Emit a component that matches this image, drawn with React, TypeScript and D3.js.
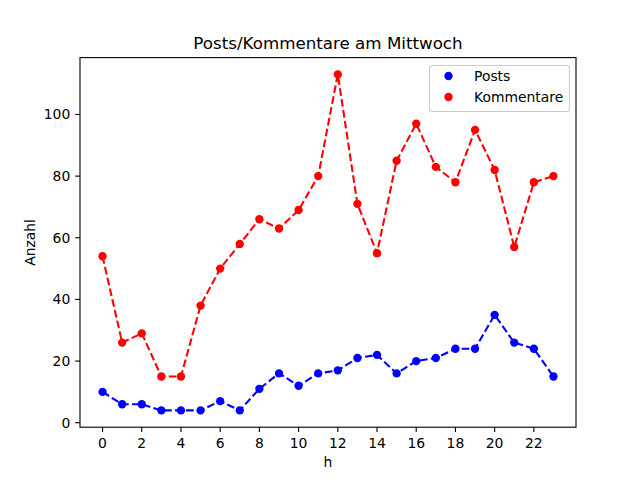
import { useEffect } from 'react'
import * as d3 from 'd3'

// hourly counts for Wednesday
const hours = d3.range(0, 24)
const posts = [10, 6, 6, 4, 4, 4, 7, 4, 11, 16, 12, 16, 17, 21, 22, 16, 20, 21, 24, 24, 35, 26, 24, 15]
const kommentare = [54, 26, 29, 15, 15, 38, 50, 58, 66, 63, 69, 80, 113, 71, 55, 85, 97, 83, 78, 95, 82, 57, 78, 80]
const xTicks = [0, 2, 4, 6, 8, 10, 12, 14, 16, 18, 20, 22]
const yTicks = [0, 20, 40, 60, 80, 100]

const series = [
  { name: 'Posts', values: posts, color: '#0000ff' },
  { name: 'Kommentare', values: kommentare, color: '#ff0000' },
]

const W = 640
const H = 480
const M = { left: 80, right: 64, top: 57.6, bottom: 52.8 }
const FONT = 'DejaVu Sans, sans-serif'

export default function App() {
  useEffect(() => {
    document.body.style.margin = '0'
  }, [])

  const all = [...posts, ...kommentare]
  const yMin = d3.min(all)!, yMax = d3.max(all)!
  const yPad = (yMax - yMin) * 0.05
  const xPad = 23 * 0.05

  const x = d3.scaleLinear().domain([-xPad, 23 + xPad]).range([M.left, W - M.right])
  const y = d3.scaleLinear().domain([yMin - yPad, yMax + yPad]).range([H - M.bottom, M.top])

  const line = (vals: number[]) =>
    d3.line<number>().x((_, i) => x(hours[i])).y(d => y(d))(vals) ?? ''

  const x0 = M.left, x1 = W - M.right, y0 = H - M.bottom, y1 = M.top

  return (
    <svg width={W} height={H} style={{ display: 'block', background: '#fff' }} fontFamily={FONT}>
      <rect x={0} y={0} width={W} height={H} fill="#fff" />

      {series.map(s => (
        <g key={s.name}>
          <path d={line(s.values)} fill="none" stroke={s.color} strokeWidth={2.08}
            strokeDasharray="7.7,3.3" />
          {s.values.map((v, i) => (
            <circle key={i} cx={x(hours[i])} cy={y(v)} r={4.17} fill={s.color} />
          ))}
        </g>
      ))}

      {/* axes frame */}
      <rect x={x0} y={y1} width={x1 - x0} height={y0 - y1} fill="none" stroke="#000" strokeWidth={1.11} />

      {xTicks.map(t => (
        <g key={t}>
          <line x1={x(t)} x2={x(t)} y1={y0} y2={y0 + 4.86} stroke="#000" strokeWidth={1.11} />
          <text x={x(t)} y={y0 + 4.86 + 4.86 + 11} textAnchor="middle" fontSize={13.9}>{t}</text>
        </g>
      ))}
      {yTicks.map(t => (
        <g key={t}>
          <line x1={x0 - 4.86} x2={x0} y1={y(t)} y2={y(t)} stroke="#000" strokeWidth={1.11} />
          <text x={x0 - 4.86 - 4.86} y={y(t)} dy="0.36em" textAnchor="end" fontSize={13.9}>{t}</text>
        </g>
      ))}

      <text x={(x0 + x1) / 2} y={467} textAnchor="middle" fontSize={13.9}>h</text>
      <text transform={`translate(35,${(y0 + y1) / 2}) rotate(-90)`} textAnchor="middle" fontSize={13.9}>Anzahl</text>
      <text x={(x0 + x1) / 2} y={49} textAnchor="middle" fontSize={16.7}>Posts/Kommentare am Mittwoch</text>

      {/* legend */}
      <g>
        <rect x={429.5} y={65.5} width={140} height={46} rx={3} fill="#fff" fillOpacity={0.8}
          stroke="#cccccc" strokeWidth={1.11} />
        {series.map((s, i) => (
          <g key={s.name} transform={`translate(0,${76 + i * 21})`}>
            <circle cx={448.5} cy={0} r={4.17} fill={s.color} />
            <text x={474} y={0} dy="0.36em" fontSize={13.9}>{s.name}</text>
          </g>
        ))}
      </g>
    </svg>
  )
}
